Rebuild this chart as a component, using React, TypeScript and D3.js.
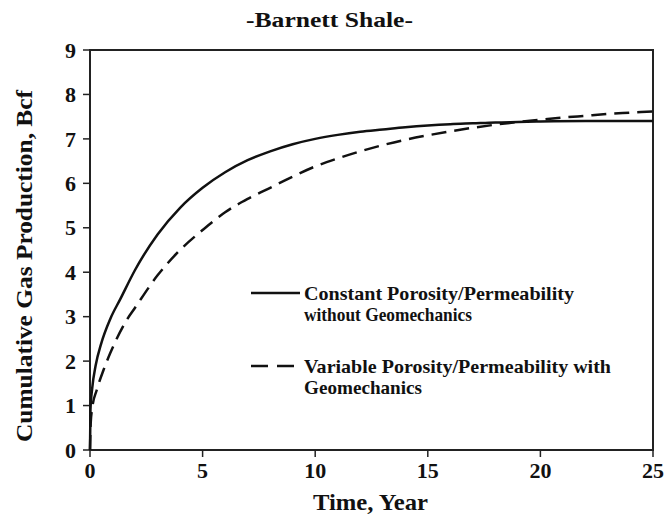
import React from "react";
import * as d3 from "d3";

const solidT = [0, 0.02, 0.1, 0.25, 0.5, 0.9, 1.35, 2, 3, 4, 5, 6, 7, 8, 9, 10, 11, 12, 13, 14, 15, 16, 17, 18, 19, 20, 22, 25];
const solidV = [0, 0.9, 1.4, 1.9, 2.4, 2.95, 3.4, 4.05, 4.85, 5.45, 5.9, 6.25, 6.52, 6.72, 6.88, 7.0, 7.09, 7.16, 7.21, 7.26, 7.3, 7.33, 7.35, 7.37, 7.38, 7.39, 7.4, 7.4];
const dashT = [0, 0.03, 0.1, 0.3, 0.6, 0.9, 1.6, 2, 3, 4, 5, 6, 7, 8, 9, 10, 11, 12, 13, 14, 15, 16, 17, 18, 19, 20, 21, 22, 23, 24, 25];
const dashV = [0, 0.6, 0.95, 1.35, 1.8, 2.18, 2.9, 3.2, 3.93, 4.5, 4.95, 5.35, 5.65, 5.9, 6.15, 6.38, 6.56, 6.72, 6.86, 6.98, 7.08, 7.17, 7.25, 7.32, 7.38, 7.43, 7.48, 7.52, 7.56, 7.59, 7.62];
const xTicks = [0, 5, 10, 15, 20, 25];
const yTicks = [0, 1, 2, 3, 4, 5, 6, 7, 8, 9];
const legendLabels = [
  ["Constant Porosity/Permeability", "without Geomechanics"],
  ["Variable Porosity/Permeability with", "Geomechanics"],
];

const W = 664, H = 518;
const L = 90, R = 653, T = 50, B = 450;
const FONT = "'Liberation Serif', 'Times New Roman', serif";

export default function App() {
  const x = d3.scaleLinear().domain([0, 25]).range([L, R]);
  const y = d3.scaleLinear().domain([0, 9]).range([B, T]);
  const line = d3
    .line<[number, number]>()
    .x((d) => x(d[0]))
    .y((d) => y(d[1]))
    .curve(d3.curveMonotoneX);
  const solid = line(solidT.map((t, i) => [t, solidV[i]]) as [number, number][]) || "";
  const dashed = line(dashT.map((t, i) => [t, dashV[i]]) as [number, number][]) || "";
  const ink = "#111";
  const legendWidths = [
    [270, 168],
    [307, 118],
  ];
  const legendY = [293, 366];

  return (
    <svg
      width={W}
      height={H}
      style={{ position: "absolute", left: 0, top: 0, background: "#fff" }}
      fontFamily={FONT}
      fontWeight="bold"
    >
      <rect x={0} y={0} width={W} height={H} fill="#fff" />
      <text x={246} y={27} fontSize={21} fill={ink} textLength={167} lengthAdjust="spacingAndGlyphs">
        -Barnett Shale-
      </text>
      <rect x={L} y={T} width={R - L} height={B - T} fill="none" stroke="#222" strokeWidth={2} />
      {yTicks.map((v) => (
        <g key={"y" + v}>
          <line x1={L - 7} x2={L} y1={y(v)} y2={y(v)} stroke="#222" strokeWidth={1.5} />
          <text x={L - 14} y={y(v)} dy="0.35em" textAnchor="end" fontSize={22} fill={ink}>
            {v}
          </text>
        </g>
      ))}
      {xTicks.map((v) => (
        <g key={"x" + v}>
          <line x1={x(v)} x2={x(v)} y1={B} y2={B + 7} stroke="#222" strokeWidth={1.5} />
          <text x={x(v)} y={B + 28} textAnchor="middle" fontSize={22} fill={ink}>
            {v}
          </text>
        </g>
      ))}
      <text x={313} y={510} fontSize={24} fill={ink} textLength={115} lengthAdjust="spacingAndGlyphs">
        Time, Year
      </text>
      <text
        transform={`translate(32, 442) rotate(-90)`}
        fontSize={23}
        fill={ink}
        textLength={352}
        lengthAdjust="spacingAndGlyphs"
      >
        Cumulative Gas Production, Bcf
      </text>
      <path d={solid} fill="none" stroke={ink} strokeWidth={2.5} />
      <path d={dashed} fill="none" stroke={ink} strokeWidth={2.5} strokeDasharray="15,8" />
      <line x1={251} x2={300} y1={legendY[0]} y2={legendY[0]} stroke={ink} strokeWidth={2.5} />
      <line x1={251} x2={300} y1={legendY[1]} y2={legendY[1]} stroke={ink} strokeWidth={2.5} strokeDasharray="17,9" />
      {legendLabels.map((lines, i) => (
        <g key={"l" + i}>
          <text
            x={304}
            y={legendY[i] + 7}
            fontSize={19}
            fill={ink}
            textLength={legendWidths[i][0]}
            lengthAdjust="spacingAndGlyphs"
          >
            {lines[0]}
          </text>
          <text
            x={304}
            y={legendY[i] + 28}
            fontSize={19}
            fill={ink}
            textLength={legendWidths[i][1]}
            lengthAdjust="spacingAndGlyphs"
          >
            {lines[1]}
          </text>
        </g>
      ))}
    </svg>
  );
}
